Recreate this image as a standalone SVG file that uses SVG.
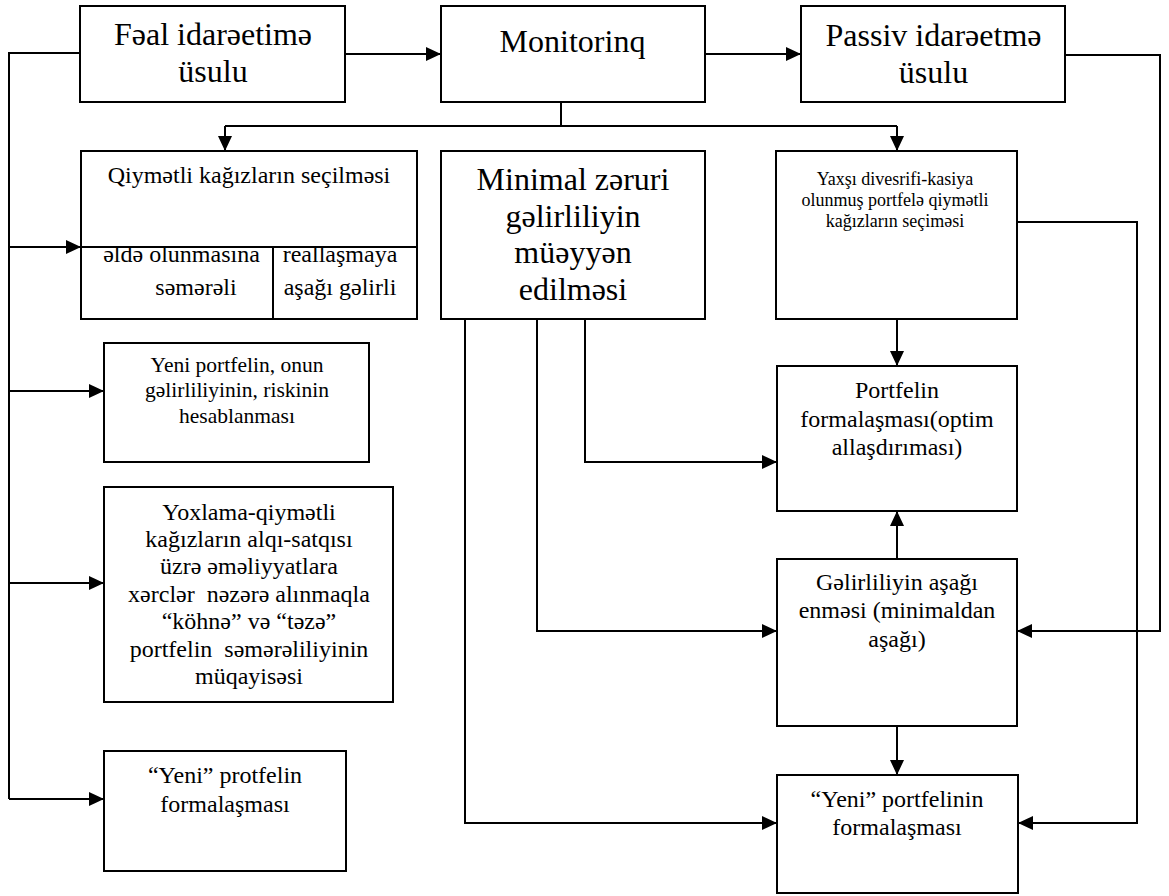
<svg xmlns="http://www.w3.org/2000/svg" width="1169" height="896" viewBox="0 0 1169 896" font-family="'Liberation Serif', serif">
  <style>
    .box { fill: #ffffff; stroke: #000000; stroke-width: 2; }
    .wire { fill: none; stroke: #000000; stroke-width: 2; }
    .arr { fill: none; stroke: #000000; stroke-width: 2; marker-end: url(#head); }
    text { font-family: 'Liberation Serif', serif; fill: #000000; text-anchor: middle; }
    .t32 { font-size: 32px; }
    .t24 { font-size: 24px; }
    .t21 { font-size: 21.5px; }
    .t18 { font-size: 18px; }
  </style>
  <defs>
    <marker id="head" markerUnits="userSpaceOnUse" viewBox="0 0 15 14" refX="15" refY="7" markerWidth="15" markerHeight="14" orient="auto">
      <path d="M0,0 L15,7 L0,14 z" fill="#000000"/>
    </marker>
  </defs>
  <rect width="1169" height="896" fill="#ffffff"/>

  <!-- connectors -->
  <g id="connectors">
    <!-- top row -->
    <line class="arr" x1="345" y1="54" x2="441" y2="54"/>
    <line class="arr" x1="705" y1="54" x2="801" y2="54"/>
    <!-- Monitoring fan-out -->
    <line class="wire" x1="561" y1="102" x2="561" y2="126"/>
    <line class="wire" x1="225" y1="126" x2="897" y2="126"/>
    <line class="arr" x1="225" y1="126" x2="225" y2="151"/>
    <line class="arr" x1="897" y1="126" x2="897" y2="151"/>
    <!-- left bus -->
    <polyline class="wire" points="80,53 9,53 9,799"/>
    <line class="arr" x1="9" y1="247" x2="81" y2="247"/>
    <line class="arr" x1="9" y1="391" x2="104" y2="391"/>
    <line class="arr" x1="9" y1="583" x2="104" y2="583"/>
    <line class="arr" x1="9" y1="799" x2="104" y2="799"/>
    <!-- from minimal return box -->
    <polyline class="arr" points="585,319 585,462 777,462"/>
    <polyline class="arr" points="537,319 537,631 777,631"/>
    <polyline class="arr" points="465,319 465,823 777,823"/>
    <!-- right column vertical flow -->
    <line class="arr" x1="897" y1="319" x2="897" y2="366"/>
    <line class="arr" x1="897" y1="559" x2="897" y2="511"/>
    <line class="arr" x1="897" y1="726" x2="897" y2="775"/>
    <!-- right side returns -->
    <polyline class="arr" points="1065,55 1160,55 1160,631 1017,631"/>
    <polyline class="arr" points="1017,222 1137,222 1137,823 1018,823"/>
  </g>

  <g id="n-feal">
    <rect class="box" x="80" y="6" width="265" height="96"/>
    <text class="t32" x="213" y="45">Fəal idarəetimə</text>
    <text class="t32" x="213" y="82">üsulu</text>
  </g>

  <g id="n-monitoring">
    <rect class="box" x="441" y="6" width="264" height="96"/>
    <text class="t32" x="572.5" y="52">Monitorinq</text>
  </g>

  <g id="n-passiv">
    <rect class="box" x="801" y="6" width="264" height="96"/>
    <text class="t32" x="933.5" y="46">Passiv idarəetmə</text>
    <text class="t32" x="933.5" y="83">üsulu</text>
  </g>

  <g id="n-secim">
    <rect class="box" x="81" y="151" width="336" height="168"/>
    <line class="wire" x1="81" y1="247" x2="417" y2="247"/>
    <line class="wire" x1="273" y1="247" x2="273" y2="319"/>
    <text class="t24" x="249" y="183">Qiymətli kağızların seçilməsi</text>
    <text class="t24" x="181.5" y="262">əldə olunmasına</text>
    <text class="t24" x="196" y="295">səmərəli</text>
    <text class="t24" x="340" y="262">reallaşmaya</text>
    <text class="t24" x="340" y="295">aşağı gəlirli</text>
  </g>

  <g id="n-minimal">
    <rect class="box" x="441" y="151" width="264" height="168"/>
    <text class="t32" x="573" y="190">Minimal zəruri</text>
    <text class="t32" x="573" y="227">gəlirliliyin</text>
    <text class="t32" x="573" y="263">müəyyən</text>
    <text class="t32" x="573" y="300">edilməsi</text>
  </g>

  <g id="n-yaxsi">
    <rect class="box" x="776" y="151" width="241" height="168"/>
    <text class="t18" x="895" y="185">Yaxşı divesrifi-kasiya</text>
    <text class="t18" x="895" y="206">olunmuş portfelə qiymətli</text>
    <text class="t18" x="895" y="227">kağızların seçiməsi</text>
  </g>

  <g id="n-hesab">
    <rect class="box" x="104" y="343" width="265" height="119"/>
    <text class="t21" x="237" y="372">Yeni portfelin, onun</text>
    <text class="t21" x="237" y="397">gəlirliliyinin, riskinin</text>
    <text class="t21" x="237" y="423">hesablanması</text>
  </g>

  <g id="n-portfelin">
    <rect class="box" x="777" y="366" width="240" height="145"/>
    <text class="t24" x="897" y="398">Portfelin</text>
    <text class="t24" x="897" y="427">formalaşması(optim</text>
    <text class="t24" x="897" y="455">allaşdırıması)</text>
  </g>

  <g id="n-yoxlama">
    <rect class="box" x="104" y="487" width="289" height="215"/>
    <text class="t24" x="249" y="520">Yoxlama-qiymətli</text>
    <text class="t24" x="249" y="547">kağızların alqı-satqısı</text>
    <text class="t24" x="249" y="574">üzrə əməliyyatlara</text>
    <text class="t24" x="249" y="602" xml:space="preserve">xərclər  nəzərə alınmaqla</text>
    <text class="t24" x="249" y="629">“köhnə” və “təzə”</text>
    <text class="t24" x="249" y="657" xml:space="preserve">portfelin  səmərəliliyinin</text>
    <text class="t24" x="249" y="684">müqayisəsi</text>
  </g>

  <g id="n-gelir">
    <rect class="box" x="777" y="559" width="240" height="167"/>
    <text class="t24" x="897" y="590">Gəlirliliyin aşağı</text>
    <text class="t24" x="897" y="618">enməsi (minimaldan</text>
    <text class="t24" x="897" y="647">aşağı)</text>
  </g>

  <g id="n-yeni-left">
    <rect class="box" x="104" y="751" width="242" height="120"/>
    <text class="t24" x="225" y="783">“Yeni” protfelin</text>
    <text class="t24" x="225" y="812">formalaşması</text>
  </g>

  <g id="n-yeni-right">
    <rect class="box" x="777" y="775" width="241" height="118"/>
    <text class="t24" x="897" y="807">“Yeni” portfelinin</text>
    <text class="t24" x="897" y="835">formalaşması</text>
  </g>
</svg>
